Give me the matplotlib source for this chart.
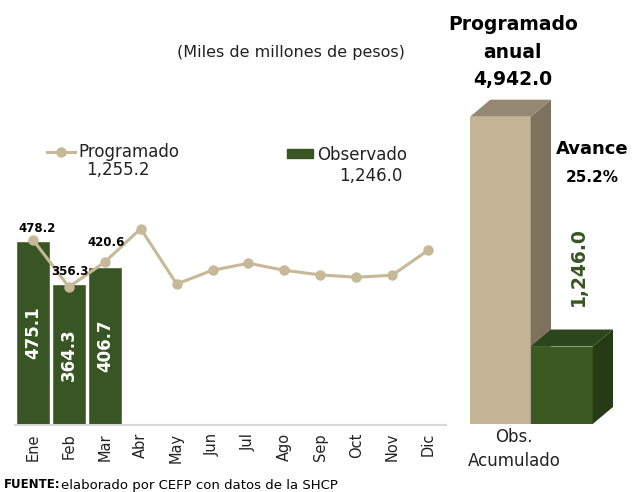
import numpy as np
import matplotlib.pyplot as plt
from matplotlib.patches import Polygon, Rectangle
from matplotlib.lines import Line2D

# data
meses = ['Ene', 'Feb', 'Mar', 'Abr', 'May', 'Jun', 'Jul', 'Ago', 'Sep', 'Oct', 'Nov', 'Dic']
programado = [478.2, 356.3, 420.6, 507.0, 364.0, 399.4, 417.5, 399.4, 387.4, 381.4, 386.5, 451.0]
observado = [475.1, 364.3, 406.7]
prog_trim = 1255.2
obs_trim = 1246.0
prog_anual = 4942.0
obs_acum = 1246.0
avance = 25.2

verde = '#375623'
tan = '#c7b898'
plt.rcParams['font.family'] = 'DejaVu Sans'

W, H = 635, 492
fig = plt.figure(figsize=(W / 100, H / 100), dpi=100)

def fx(px):
    return px / W

def fy(py):
    return 1 - py / H

# left chart (monthly)
ax = fig.add_axes([fx(15), fy(424.7), 431 / W, 232 / H])
x = np.arange(len(meses))
ax.bar(x[:len(observado)], observado, width=0.95, color=verde, edgecolor='white', linewidth=1, zorder=2)
ax.plot(x, programado, color=tan, linewidth=2.2, marker='o', markersize=6.5, zorder=3)
for i, v in enumerate(observado):
    ax.text(i, v / 2, '%.1f' % v, rotation=90, color='white', fontweight='bold',
            fontsize=12, ha='center', va='center', zorder=4)
offs = [(0.12, 12), (0.03, 24), (0.05, 34)]
for i in range(len(observado)):
    ax.text(i + offs[i][0], programado[i] + offs[i][1], '%.1f' % programado[i], fontsize=8.5,
            fontweight='bold', ha='center', va='bottom', zorder=4)
ax.set_xlim(-0.5, 11.5)
ax.set_ylim(0, 600)
ax.set_xticks(x)
ax.set_xticklabels(meses, rotation=90, fontsize=10.5, color='#222222')
ax.tick_params(axis='x', length=0, pad=6)
ax.set_yticks([])
for s in ['top', 'right', 'left']:
    ax.spines[s].set_visible(False)
ax.spines['bottom'].set_color('#d9d9d9')
ax.spines['bottom'].set_linewidth(1.5)

# legend drawn by hand
fig.add_artist(Line2D([fx(47), fx(75)], [fy(152), fy(152)], color=tan, linewidth=2.2))
fig.add_artist(Line2D([fx(61)], [fy(152)], color=tan, marker='o', markersize=6.5))
fig.text(fx(78), fy(152), 'Programado', fontsize=12, va='center', ha='left', color='#222222')
fig.text(fx(86), fy(170), '{:,.1f}'.format(prog_trim), fontsize=12, va='center', ha='left', color='#222222')
fig.add_artist(Rectangle((fx(287), fy(158)), 26 / W, 9 / H, color=verde))
fig.text(fx(317), fy(155), 'Observado', fontsize=12, va='center', ha='left', color='#222222')
fig.text(fx(339), fy(176), '{:,.1f}'.format(obs_trim), fontsize=12, va='center', ha='left', color='#222222')

fig.text(fx(291), fy(53), '(Miles de millones de pesos)', fontsize=11.5, ha='center', va='center',
         color='#222222')

# right chart (3D bars)
ax2 = fig.add_axes([fx(460), fy(424), 170 / W, 400 / H])
ax2.set_xlim(0, 170)
scale = 307.3 / prog_anual  # px per unit
ax2.set_ylim(0, 400 / scale)
ax2.axis('off')
ddx, ddy = 20.3, 17 / scale

def bar3d(x0, w, h, c_front, c_side, c_top):
    ax2.add_patch(Polygon([(x0, 0), (x0 + w, 0), (x0 + w, h), (x0, h)], closed=True,
                          facecolor=c_front, edgecolor='none'))
    ax2.add_patch(Polygon([(x0 + w, 0), (x0 + w + ddx, ddy), (x0 + w + ddx, h + ddy), (x0 + w, h)],
                          closed=True, facecolor=c_side, edgecolor='none'))
    ax2.add_patch(Polygon([(x0, h), (x0 + w, h), (x0 + w + ddx, h + ddy), (x0 + ddx, h + ddy)],
                          closed=True, facecolor=c_top, edgecolor='none'))

bar3d(10, 60.7, prog_anual, '#c4b496', '#7e725e', '#958872')
bar3d(70.7, 62, obs_acum, '#3a5a22', '#253b16', '#2b461b')

fig.text(fx(513), fy(24), 'Programado', fontsize=13.5, fontweight='bold', ha='center', va='center')
fig.text(fx(513), fy(52), 'anual', fontsize=13.5, fontweight='bold', ha='center', va='center')
fig.text(fx(513), fy(80), '{:,.1f}'.format(prog_anual), fontsize=13.5, fontweight='bold',
         ha='center', va='center')
fig.text(fx(592), fy(149), 'Avance', fontsize=13, fontweight='bold', ha='center', va='center')
fig.text(fx(592), fy(177), '%.1f%%' % avance, fontsize=11, fontweight='bold', ha='center', va='center')
fig.text(fx(578), fy(267), '{:,.1f}'.format(obs_acum), fontsize=13.5, fontweight='bold', color=verde,
         rotation=90, ha='center', va='center')
fig.text(fx(514), fy(437), 'Obs.', fontsize=12, ha='center', va='center', color='#222222')
fig.text(fx(514), fy(461), 'Acumulado', fontsize=12, ha='center', va='center', color='#222222')

# source note
fig.text(fx(4), fy(485), 'FUENTE:', fontsize=8.5, fontweight='bold', ha='left', va='center')
fig.text(fx(61), fy(485), 'elaborado por CEFP con datos de la SHCP', fontsize=9.5, ha='left', va='center')

fig.savefig('out.png', dpi=100)
